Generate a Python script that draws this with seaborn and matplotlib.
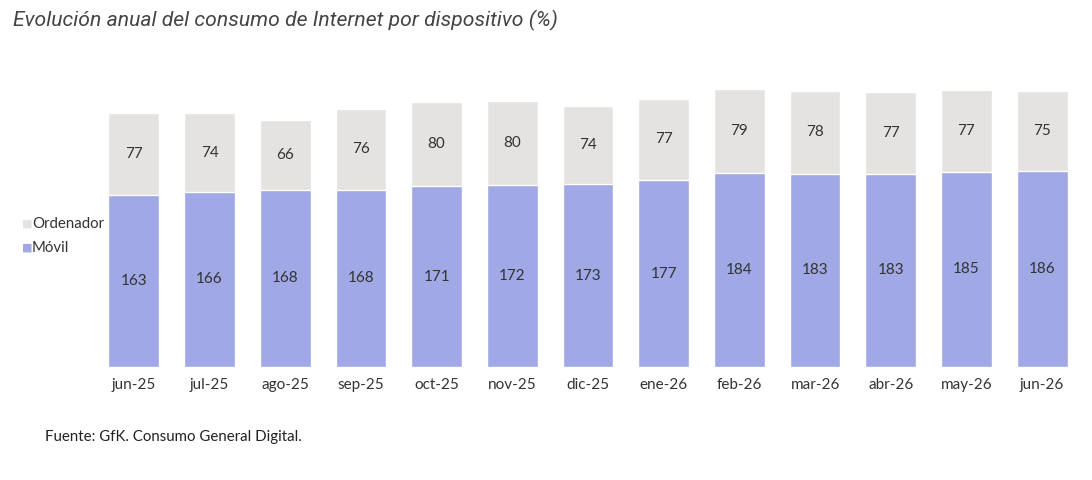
import pandas as pd
import matplotlib.pyplot as plt
import seaborn as sns

# Datos del gráfico
meses = ['jun-25', 'jul-25', 'ago-25', 'sep-25', 'oct-25', 'nov-25', 'dic-25',
         'ene-26', 'feb-26', 'mar-26', 'abr-26', 'may-26', 'jun-26']
movil = [163, 166, 168, 168, 171, 172, 173, 177, 184, 183, 183, 185, 186]
ordenador = [77, 74, 66, 76, 80, 80, 74, 77, 79, 78, 77, 77, 75]

data = pd.DataFrame({'Mes': meses, 'Movil': movil, 'Ordenador': ordenador})
data['Total'] = data['Movil'] + data['Ordenador']

color_movil = '#A0A8E6'
color_ord = '#E5E3E1'
color_txt = '#333333'

sns.set_style('white')
plt.rcParams['font.family'] = ['Lato', 'DejaVu Sans']

fig = plt.figure(figsize=(10.92, 4.8), dpi=100)
ax = fig.add_axes([96 / 1092, 113 / 480, 984 / 1092, 300 / 480])

# Barras apiladas: total (ordenador) detrás y móvil delante
sns.barplot(data=data, x='Mes', y='Total', color=color_ord, width=0.67,
            saturation=1, ax=ax)
sns.barplot(data=data, x='Mes', y='Movil', color=color_movil, width=0.67,
            saturation=1, ax=ax)

# Etiquetas de valores
for i, row in data.iterrows():
    ax.text(i, row['Movil'] / 2, str(row['Movil']), ha='center', va='center',
            fontsize=11, color=color_txt)
    ax.text(i, row['Movil'] + row['Ordenador'] / 2, str(row['Ordenador']),
            ha='center', va='center', fontsize=11, color=color_txt)

ax.set_xlim(-0.5, len(meses) - 0.5)
ax.set_ylim(0, 284)
ax.set_xlabel('')
ax.set_ylabel('')
ax.set_yticks([])
ax.tick_params(axis='x', length=0, pad=8, labelsize=11, colors=color_txt)
sns.despine(ax=ax, left=True, bottom=True)

# Leyenda manual
fig.text(22 / 1092, 1 - 224 / 480, '■', color=color_ord, fontsize=8,
         va='center', family=['DejaVu Sans'])
fig.text(32 / 1092, 1 - 224 / 480, 'Ordenador', color=color_txt, fontsize=10.8,
         va='center')
fig.text(22 / 1092, 1 - 248 / 480, '■', color=color_movil, fontsize=8,
         va='center', family=['DejaVu Sans'])
fig.text(32 / 1092, 1 - 248 / 480, 'Móvil', color=color_txt, fontsize=10.8,
         va='center')

# Título y fuente
fig.text(13 / 1092, 1 - 20 / 480, 'Evolución anual del consumo de Internet por dispositivo (%)',
         fontsize=15.2, style='italic', color='#444444', va='center',
         family=['Roboto', 'DejaVu Sans'])
fig.text(45 / 1092, 1 - 437 / 480, 'Fuente: GfK. Consumo General Digital.',
         fontsize=10.8, color='#222222', va='center')

plt.savefig('out.png', dpi=100)
